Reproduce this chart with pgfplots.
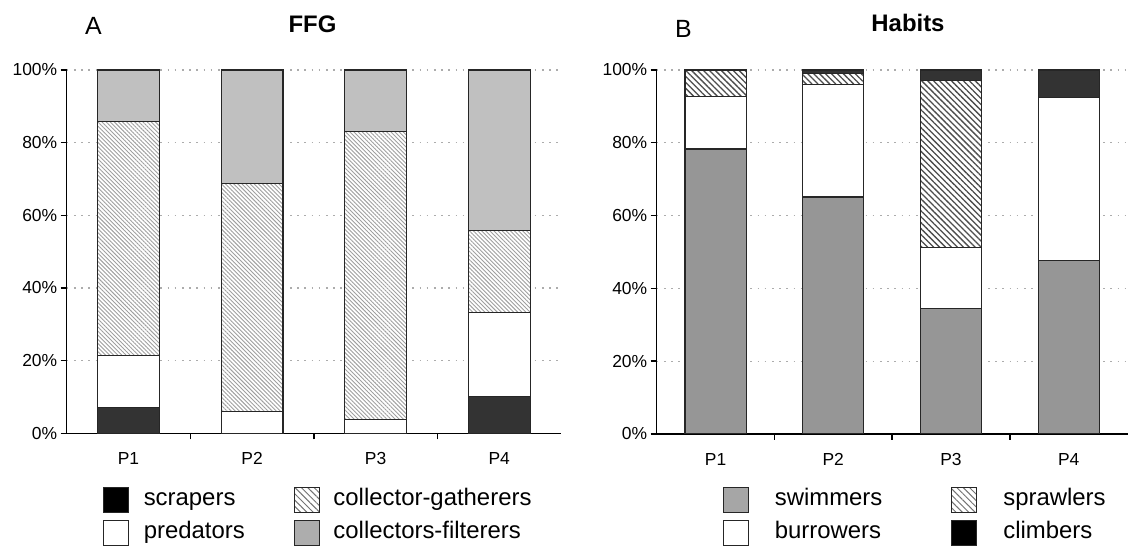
\documentclass[border=0pt]{standalone}
\usepackage{fontspec}
\setmainfont{Liberation Sans}
\usepackage{pgfplots}
\pgfplotsset{compat=1.18}
\usetikzlibrary{patterns.meta}

\definecolor{darkfill}{HTML}{333333}
\definecolor{lightgrey}{HTML}{C0C0C0}
\definecolor{midgrey}{HTML}{969696}
\definecolor{barline}{HTML}{262626}

\pgfplotsset{
  common/.style={
    scale only axis,
    ybar stacked,
    bar width=0.5,
    xmin=0.5, xmax=4.5, ymin=0, ymax=100,
    enlargelimits=false,
    axis x line=bottom, axis y line=left,
    axis line style={-, line width=1.4bp, black},
    ytick={0,20,40,60,80,100},
    yticklabels={0\%,20\%,40\%,60\%,80\%,100\%},
    xtick={1.5,2.5,3.5}, xticklabels={},
    extra x ticks={1,2,3,4}, extra x tick labels={P1,P2,P3,P4},
    extra x tick style={major tick length=0pt, grid=none},
    x tick label style={yshift=-15.5bp},
    tick align=outside, major tick length=6bp,
    tick style={line width=1.4bp, black},
    ymajorgrids,
    grid style={dash pattern=on 1.6bp off 5.6bp, line width=1.2bp, gray!65},
    tick label style={font=\fontsize{17.5}{20}\selectfont},
    legend cell align=left,
    legend columns=2,
    legend image code/.code={\draw[##1] (0bp,-12.5bp) rectangle (25bp,12.5bp);},
    legend style={draw=none, fill=none, inner sep=0pt, outer sep=0pt,
      anchor=north west,
      nodes={inner sep=0pt, text height=17bp, text depth=5bp,
             font=\fontsize{24}{28}\selectfont},
      /tikz/column sep=0pt, /tikz/row sep=7bp},
  },
  barstyle/.style={draw=barline, line width=1.1bp},
}

\begin{document}
\begin{tikzpicture}[x=1bp,y=1bp]
\path[use as bounding box] (0,0) rectangle (1140,549);

% Panel titles
\node[anchor=base west, inner sep=0pt, font=\fontsize{25}{28}\selectfont] at (85,514) {A};
\node[anchor=base, inner sep=0pt, font=\fontsize{24}{28}\selectfont\bfseries] at (312.5,516.7) {FFG};
\node[anchor=base west, inner sep=0pt, font=\fontsize{25}{28}\selectfont] at (675,511.7) {B};
\node[anchor=base, inner sep=0pt, font=\fontsize{24}{28}\selectfont\bfseries] at (908,517.3) {Habits};

% Panel A
\begin{axis}[common,
  at={(66.7bp,115.7bp)}, anchor=south west,
  width=494.3bp, height=363.3bp,
  legend style={at={(0.0728,-0.147)}},
]
\addplot[barstyle, fill=darkfill, forget plot] coordinates {(1,7.2) (2,0) (3,0) (4,10.1)};
\addplot[barstyle, fill=white, forget plot] coordinates {(1,14.2) (2,5.9) (3,3.9) (4,23.2)};
\addplot[barstyle, preaction={fill=white}, pattern={Lines[angle=-45,distance=2.9bp,line width=0.9bp]}, pattern color=gray!75, forget plot] coordinates {(1,64.4) (2,62.8) (3,79.1) (4,22.6)};
\addplot[barstyle, fill=lightgrey, forget plot] coordinates {(1,14.2) (2,31.3) (3,17.0) (4,44.1)};

\addlegendimage{barstyle, fill=black}
\addlegendentry{\makebox[165.6bp][l]{\hspace*{15bp}scrapers}}
\addlegendimage{barstyle, preaction={fill=white}, pattern={Lines[angle=-45,distance=4.5bp,line width=1bp]}, pattern color=gray!90!black}
\addlegendentry{\hspace*{13bp}collector-gatherers}
\addlegendimage{barstyle, fill=white}
\addlegendentry{\makebox[165.6bp][l]{\hspace*{15bp}predators}}
\addlegendimage{barstyle, fill=lightgrey!90!black}
\addlegendentry{\hspace*{13bp}collectors-filterers}
\end{axis}

% Panel B
\begin{axis}[common,
  at={(656.7bp,115bp)}, anchor=south west,
  width=470.8bp, height=364bp,
  bar width=0.52,
  legend style={at={(0.1402,-0.1448)}},
]
\addplot[barstyle, fill=midgrey, forget plot] coordinates {(1,78.3) (2,65.1) (3,34.4) (4,47.7)};
\addplot[barstyle, fill=white, forget plot] coordinates {(1,14.4) (2,31.0) (3,16.8) (4,44.7)};
\addplot[barstyle, preaction={fill=white}, pattern={Lines[angle=-45,distance=4.2bp,line width=1.3bp]}, pattern color=black!70, forget plot] coordinates {(1,7.3) (2,2.9) (3,45.8) (4,0)};
\addplot[barstyle, fill=darkfill, forget plot] coordinates {(1,0) (2,1.0) (3,3.0) (4,7.6)};

\addlegendimage{barstyle, fill=midgrey!85!white}
\addlegendentry{\makebox[202.4bp][l]{\hspace*{26bp}swimmers}}
\addlegendimage{barstyle, preaction={fill=white}, pattern={Lines[angle=-45,distance=4.5bp,line width=1bp]}, pattern color=gray!90!black}
\addlegendentry{\hspace*{26bp}sprawlers}
\addlegendimage{barstyle, fill=white}
\addlegendentry{\makebox[202.4bp][l]{\hspace*{26bp}burrowers}}
\addlegendimage{barstyle, fill=black}
\addlegendentry{\hspace*{26bp}climbers}
\end{axis}
\end{tikzpicture}
\end{document}
